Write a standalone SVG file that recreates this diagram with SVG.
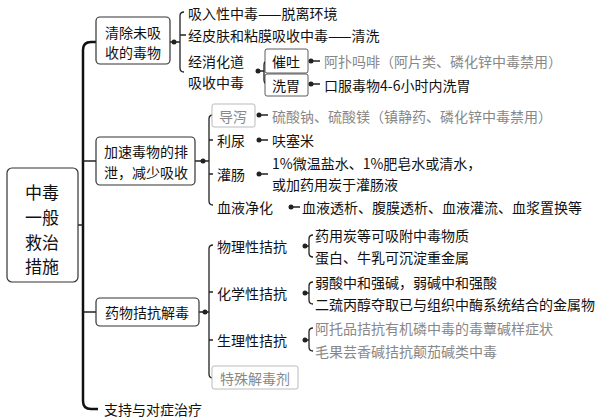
<svg xmlns="http://www.w3.org/2000/svg" width="606" height="420" viewBox="0 0 606 420">
<style>
text{font-family:"Noto Sans CJK SC","Liberation Sans",sans-serif;font-size:14px;fill:#111;dominant-baseline:central}
.g{fill:#888}
.box{fill:#fff;stroke:#333;stroke-width:1.2}
.gbox{fill:#fff;stroke:#bbb;stroke-width:1}
.ln{fill:none;stroke:#222;stroke-width:1.3}
.main{fill:none;stroke:#111;stroke-width:2.5}
.dot{fill:#222}
</style>
<rect width="606" height="420" fill="#fff"/>
<g id="connectors">
<path class="main" d="M83 50 Q83 42 91 42 H96 M83 50 V401 Q83 409 91 409 H98"/>
<path class="ln" d="M78 225 H83 M83 161 H96 M83 312 H96"/>
<path class="ln" d="M170 42 H180 M184 12 Q180 12 180 16 V68 Q180 72 184 72 M180 35 H186"/>
<path class="ln" d="M257 71 H264 M268 61 Q264 61 264 65 V80 Q264 84 268 84"/>
<path class="ln" d="M195 161 H209 M213 115 Q209 115 209 119 V201 Q209 205 213 205 M209 140 H213 M209 174 H213"/>
<path class="ln" d="M199 312 H209 M213 245 Q209 245 209 249 V374 Q209 378 213 378 M209 292 H213 M209 340 H213"/>
<path class="ln" d="M305 246 H309 M313 235 Q309 235 309 239 V253 Q309 257 313 257 M305 293 H309 M313 282 Q309 282 309 286 V300 Q309 304 313 304 M305 340 H309 M313 328 Q309 328 309 332 V347 Q309 351 313 351"/>
<path class="ln" d="M311 61 H320 M311 84 H320 M259 115 H268 M259 140 H268 M259 174 H268 M291 207 H300"/>
<g class="dot"><circle cx="174" cy="42" r="2.5"/><circle cx="258" cy="71" r="2.5"/><circle cx="311" cy="61" r="2.5"/><circle cx="311" cy="84" r="2.5"/><circle cx="203" cy="161" r="2.5"/><circle cx="259" cy="115" r="2.5"/><circle cx="259" cy="140" r="2.5"/><circle cx="259" cy="174" r="2.5"/><circle cx="291" cy="207" r="2.5"/><circle cx="205" cy="312" r="2.5"/><circle cx="305" cy="246" r="2.5"/><circle cx="305" cy="293" r="2.5"/><circle cx="305" cy="340" r="2.5"/></g>
</g>
<g id="root"><rect class="box" x="7" y="168" width="71" height="114" rx="5"/>
<text x="42" y="191" text-anchor="middle" font-size="17" style="font-size:17px">中毒</text><text x="42" y="216" text-anchor="middle" style="font-size:17px">一般</text><text x="42" y="241" text-anchor="middle" style="font-size:17px">救治</text><text x="42" y="265" text-anchor="middle" style="font-size:17px">措施</text></g>
<g id="n1"><rect class="box" x="96" y="17" width="74" height="47" rx="4"/><text x="133" y="32" text-anchor="middle">清除未吸</text><text x="133" y="52" text-anchor="middle">收的毒物</text></g>
<g id="n1a"><text x="188" y="13">吸入性中毒——脱离环境</text></g>
<g id="n1b"><text x="188" y="35">经皮肤和粘膜吸收中毒——清洗</text></g>
<g id="n1c"><text x="188" y="61">经消化道</text><text x="188" y="82">吸收中毒</text></g>
<g id="n1c1"><rect class="box" x="265" y="49" width="43" height="24" rx="2" style="stroke-width:0.8"/><text x="286" y="61" text-anchor="middle">催吐</text><text class="g" x="324" y="61">阿扑吗啡（阿片类、磷化锌中毒禁用）</text></g>
<g id="n1c2"><rect class="box" x="265" y="74" width="43" height="22" rx="2" style="stroke-width:0.8"/><text x="286" y="85" text-anchor="middle">洗胃</text><text x="324" y="85">口服毒物4-6小时内洗胃</text></g>
<g id="n2"><rect class="box" x="96" y="137" width="99" height="48" rx="4"/><text x="146" y="151" text-anchor="middle">加速毒物的排</text><text x="146" y="172" text-anchor="middle">泄，减少吸收</text></g>
<g id="n2a"><rect class="gbox" x="212" y="104" width="43" height="23" rx="2"/><text class="g" x="233" y="116" text-anchor="middle">导泻</text><text class="g" x="272" y="116">硫酸钠、硫酸镁（镇静药、磷化锌中毒禁用）</text></g>
<g id="n2b"><text x="217" y="140">利尿</text><text x="272" y="140">呋塞米</text></g>
<g id="n2c"><text x="217" y="174">灌肠</text><text x="272" y="163">1%微温盐水、1%肥皂水或清水，</text><text x="272" y="184">或加药用炭于灌肠液</text></g>
<g id="n2d"><text x="217" y="207">血液净化</text><text x="302" y="207">血液透析、腹膜透析、血液灌流、血浆置换等</text></g>
<g id="n3"><rect class="box" x="96" y="298" width="103" height="28" rx="4"/><text x="147" y="312" text-anchor="middle">药物拮抗解毒</text></g>
<g id="n3a"><text x="217" y="246">物理性拮抗</text><text x="315" y="235">药用炭等可吸附中毒物质</text><text x="315" y="257">蛋白、牛乳可沉淀重金属</text></g>
<g id="n3b"><text x="217" y="293">化学性拮抗</text><text x="315" y="282">弱酸中和强碱，弱碱中和强酸</text><text x="315" y="304">二巯丙醇夺取已与组织中酶系统结合的金属物</text></g>
<g id="n3c"><text x="217" y="340">生理性拮抗</text><text class="g" x="315" y="328">阿托品拮抗有机磷中毒的毒蕈碱样症状</text><text class="g" x="315" y="351">毛果芸香碱拮抗颠茄碱类中毒</text></g>
<g id="n3d"><rect class="gbox" x="212" y="366" width="86" height="23" rx="2"/><text class="g" x="255" y="378" text-anchor="middle">特殊解毒剂</text></g>
<g id="n4"><text x="104" y="409">支持与对症治疗</text></g>
</svg>
